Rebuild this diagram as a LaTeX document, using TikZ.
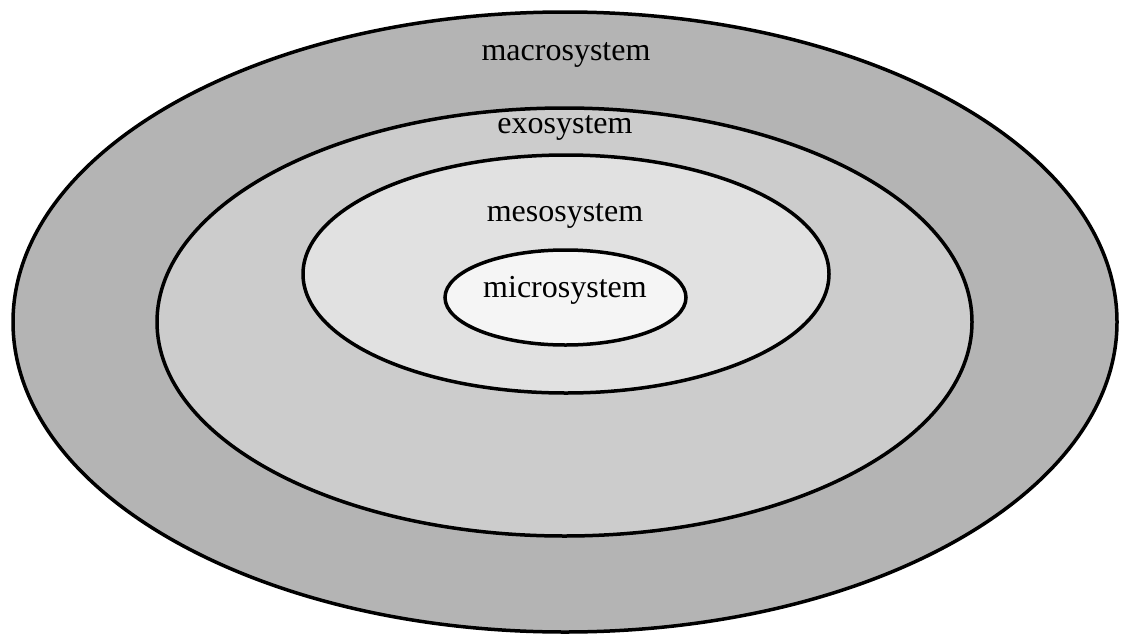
\documentclass[tikz,border=0pt]{standalone}
\usepackage{fontspec}
\setmainfont{Liberation Serif}
\usetikzlibrary{shapes}

\begin{document}
\begin{tikzpicture}[x = 1pt, y = -1pt]
\tikzstyle{ringStyle}=[shape = ellipse, inner sep = 0pt, line width = 3.5pt, draw]
\tikzstyle{labelStyle}=[inner sep = 0pt, anchor = base, font = \fontsize{32}{38}\selectfont]
\definecolor{macroGray}{HTML}{B4B4B4}
\definecolor{exoGray}{HTML}{CCCCCC}
\definecolor{mesoGray}{HTML}{E1E1E1}
\definecolor{microGray}{HTML}{F5F5F5}
\useasboundingbox (0,0) rectangle (1121,637);
\node[ringStyle, fill = macroGray, minimum width = 1104pt, minimum height = 620pt] (macro) at (565,322) {};
\node[ringStyle, fill = exoGray, minimum width = 815pt, minimum height = 428pt] (exo) at (564.5,322) {};
\node[ringStyle, fill = mesoGray, minimum width = 526pt, minimum height = 238pt] (meso) at (566,274) {};
\node[ringStyle, fill = microGray, minimum width = 241pt, minimum height = 95pt] (micro) at (565.5,297.5) {};
\node[labelStyle] (macroLabel) at (566,60) {macrosystem};
\node[labelStyle] (exoLabel) at (565,133) {exosystem};
\node[labelStyle] (mesoLabel) at (565,221) {mesosystem};
\node[labelStyle] (microLabel) at (565,297) {microsystem};
\end{tikzpicture}
\end{document}
